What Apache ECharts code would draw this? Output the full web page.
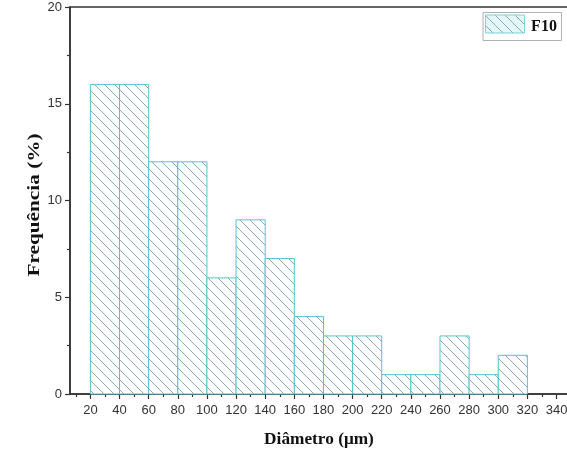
<!DOCTYPE html>
<html>
<head>
<meta charset="utf-8">
<script src="https://cdn.jsdelivr.net/npm/echarts@6/dist/echarts.min.js"></script>
<style>html,body{margin:0;padding:0;background:#fff;overflow:hidden}#c{width:567px;height:453px}</style>
</head>
<body>
<div id="c"></div>
<script>
// Data
var binEdges = [20, 40, 60, 80, 100, 120, 140, 160, 180, 200, 220, 240, 260, 280, 300, 320];
var frequency = [16, 16, 12, 12, 6, 9, 7, 4, 3, 3, 1, 1, 3, 1, 2];
var xTickLabels = [20, 40, 60, 80, 100, 120, 140, 160, 180, 200, 220, 240, 260, 280, 300, 320, 340];
var xMinorTicks = [10, 30, 50, 70, 90, 110, 130, 150, 170, 190, 210, 230, 250, 270, 290, 310, 330, 350];
var yTickLabels = [0, 5, 10, 15, 20];
var seriesName = 'F10';

function makePattern(bg) {
  var c = document.createElement('canvas');
  var s = 10;
  c.width = s; c.height = s;
  var ctx = c.getContext('2d');
  if (bg) { ctx.fillStyle = bg; ctx.fillRect(0, 0, s, s); }
  ctx.strokeStyle = '#86aeb3';
  ctx.lineWidth = 1;
  ctx.beginPath();
  ctx.moveTo(-1, -1); ctx.lineTo(s + 1, s + 1);
  ctx.moveTo(-1, s - 1); ctx.lineTo(1, s + 1);
  ctx.moveTo(s - 1, -1); ctx.lineTo(s + 1, 1);
  ctx.stroke();
  return c;
}
var pat = makePattern('#ffffff');
var patLegend = makePattern('#e3f6f8');

var barData = frequency.map(function (v, i) { return [binEdges[i], binEdges[i + 1], v]; });

var chart = echarts.init(document.getElementById('c'), null, { renderer: 'canvas' });
var axisColor = '#333333';
var labelStyle = { color: '#333', fontFamily: 'Liberation Sans, Arial, sans-serif', fontSize: 13 };

chart.setOption({
  animation: false,
  backgroundColor: '#ffffff',
  grid: { left: 70, width: 504, top: 7, bottom: 59, outerBoundsMode: 'none', containLabel: false, show: true, borderColor: axisColor, borderWidth: 1.5, backgroundColor: 'transparent' },
  xAxis: [
    {
      type: 'value', min: 6, max: 352, position: 'bottom',
      axisLine: { show: true, onZero: false, lineStyle: { color: axisColor, width: 1.5 } },
      axisTick: { show: true, customValues: xTickLabels, length: 5, inside: false, lineStyle: { color: axisColor, width: 1.2 } },
      axisLabel: Object.assign({ customValues: xTickLabels, margin: 10 }, labelStyle),
      splitLine: { show: false }
    },
    {
      type: 'value', min: 6, max: 352, position: 'bottom',
      axisLine: { show: false, onZero: false },
      axisTick: { show: true, customValues: xMinorTicks, length: 3, lineStyle: { color: axisColor, width: 1.2 } },
      axisLabel: { show: false },
      splitLine: { show: false }
    }
  ],
  yAxis: {
    type: 'value', min: 0, max: 20, interval: 5,
    axisLine: { show: true, lineStyle: { color: axisColor, width: 1.5 } },
    axisTick: { show: true, length: 5, lineStyle: { color: axisColor, width: 1.2 } },
    minorTick: { show: true, splitNumber: 2, length: 3, lineStyle: { color: axisColor, width: 1.2 } },
    axisLabel: Object.assign({ margin: 8 }, labelStyle),
    splitLine: { show: false }
  },
  series: [{
    type: 'custom',
    name: seriesName,
    data: barData,
    encode: { x: [0, 1], y: 2 },
    renderItem: function (params, api) {
      var p0 = api.coord([api.value(0), 0]);
      var p1 = api.coord([api.value(1), api.value(2)]);
      return {
        type: 'rect',
        shape: { x: p0[0], y: p1[1], width: p1[0] - p0[0], height: p0[1] - p1[1] },
        style: { fill: { image: pat, repeat: 'repeat' }, stroke: '#52c4cd', lineWidth: 1 }
      };
    }
  }],
  graphic: [
    {
      type: 'text', x: 35, y: 205, rotation: Math.PI / 2, scaleX: 1.33,
      style: { text: 'Frequência (%)', font: 'bold 16px "Liberation Serif", "Times New Roman", serif', fill: '#111', align: 'center', verticalAlign: 'middle' }
    },
    {
      type: 'text', x: 319, y: 440, scaleX: 1.08,
      style: { text: 'Diâmetro (μm)', font: 'bold 16px "Liberation Serif", "Times New Roman", serif', fill: '#111', align: 'center', verticalAlign: 'middle' }
    },
    {
      type: 'rect', shape: { x: 483, y: 12.5, width: 78.5, height: 28 },
      style: { fill: '#fff', stroke: '#b0b0b0', lineWidth: 1 }
    },
    {
      type: 'rect', shape: { x: 485.5, y: 15, width: 39, height: 18 },
      style: { fill: { image: patLegend, repeat: 'repeat' }, stroke: '#7fd3da', lineWidth: 1 }
    },
    {
      type: 'text', x: 544, y: 27,
      style: { text: seriesName, font: 'bold 16px "Liberation Serif", "Times New Roman", serif', fill: '#111', align: 'center', verticalAlign: 'middle' }
    }
  ]
});
</script>
</body>
</html>
